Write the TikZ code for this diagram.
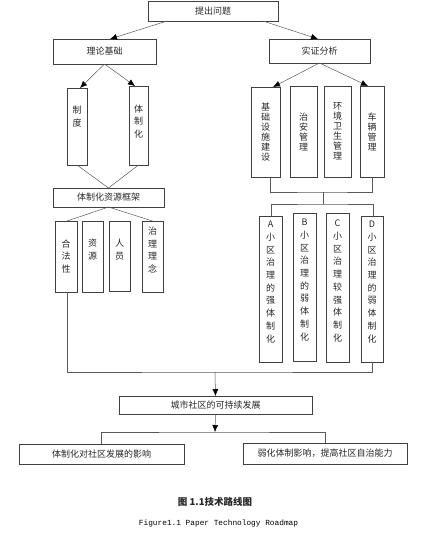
\documentclass[tikz,border=0pt]{standalone}
\usepackage{fontspec}
\newfontfamily\cjk{Noto Sans CJK SC}
\newfontfamily\mono{Liberation Mono}
\usetikzlibrary{arrows.meta,calc}
\newcommand\htxt{\cjk\fontsize{9}{10}\selectfont}
\newcommand\vtxt{\cjk\fontsize{9}{12.7}\selectfont}
\newcommand\vtxtb{\cjk\fontsize{9}{10}\selectfont}
\tikzset{
  box/.style={draw=black!75, line width=0.6pt, inner sep=0pt, outer sep=0pt, font=\htxt, text=black!85},
  vt/.style={align=center, inner sep=0pt, font=\vtxt, text=black!85},
  vtb/.style={align=center, inner sep=0pt, font=\vtxtb, text=black!85},
  conn/.style={draw=black!65, line width=0.5pt},
  arr/.style={conn, -{Latex[length=7pt,width=6pt,black]}},
}
\begin{document}
\begin{tikzpicture}[x=1pt,y=-1pt]
\useasboundingbox (0,0) rectangle (428,533);
% top level
\node[box, minimum width=130pt, minimum height=20pt] (q) at (213,11) {提出问题};
\node[box, minimum width=103pt, minimum height=25pt] (t) at (104.5,51.5) {理论基础};
\node[box, minimum width=101pt, minimum height=24pt] (s) at (319.5,51) {实证分析};
% left vertical boxes
\node[box, minimum width=20pt, minimum height=77pt] (zd) at (77,126.5) {};
\node[vt, yshift=10pt] (zdt) at (zd.center) {制\\度};
\node[box, minimum width=19pt, minimum height=79pt] (tzh) at (138.5,125.5) {};
\node[vt, yshift=4pt] (tzht) at (tzh.center) {体\\制\\化};
% right vertical boxes
\node[box, minimum width=29pt, minimum height=90pt] (jc) at (265.5,132) {};
\node[vtb] (jct) at (jc.center) {基\\础\\设\\施\\建\\设};
\node[box, minimum width=27pt, minimum height=91pt] (za) at (303.5,131.5) {};
\node[vtb] (zat) at (za.center) {治\\安\\管\\理};
\node[box, minimum width=27pt, minimum height=91pt] (hj) at (337.5,131.5) {};
\node[vtb] (hjt) at (hj.center) {环\\境\\卫\\生\\管\\理};
\node[box, minimum width=24pt, minimum height=91pt] (cl) at (372,131.5) {};
\node[vtb] (clt) at (cl.center) {车\\辆\\管\\理};
% framework
\node[box, minimum width=111pt, minimum height=19pt] (kj) at (108.5,197.5) {体制化资源框架};
\node[box, minimum width=22pt, minimum height=71pt] (hf) at (66,256.5) {};
\node[vt] (hft) at (hf.center) {合\\法\\性};
\node[box, minimum width=21pt, minimum height=71pt] (zy) at (92.5,256.5) {};
\node[vt, yshift=7pt] (zyt) at (zy.center) {资\\源};
\node[box, minimum width=21pt, minimum height=70pt] (ry) at (119.5,256) {};
\node[vt, yshift=6.5pt] (ryt) at (ry.center) {人\\员};
\node[box, minimum width=21pt, minimum height=71pt] (zl) at (152.5,256.5) {};
\node[vt, yshift=6.5pt] (zlt) at (zl.center) {治\\理\\理\\念};
% A-D
\node[box, minimum width=23pt, minimum height=146pt] (A) at (270.5,289) {};
\node[vt, yshift=7pt] (At) at (A.center) {A\\小\\区\\治\\理\\的\\强\\体\\制\\化};
\node[box, minimum width=23pt, minimum height=148pt] (B) at (304.5,287) {};
\node[vt, yshift=7pt] (Bt) at (B.center) {B\\小\\区\\治\\理\\的\\弱\\体\\制\\化};
\node[box, minimum width=23pt, minimum height=149pt] (C) at (337.5,287.5) {};
\node[vt, yshift=6.5pt] (Ct) at (C.center) {C\\小\\区\\治\\理\\较\\强\\体\\制\\化};
\node[box, minimum width=22pt, minimum height=146pt] (D) at (372,289) {};
\node[vt, yshift=7pt] (Dt) at (D.center) {D\\小\\区\\治\\理\\的\\弱\\体\\制\\化};
% bottom
\node[box, minimum width=193pt, minimum height=18pt] (cs) at (215.5,405) {城市社区的可持续发展};
\node[box, minimum width=165pt, minimum height=20pt] (yx) at (101.5,454) {体制化对社区发展的影响};
\node[box, minimum width=164pt, minimum height=21pt] (rh) at (325,453.5) {弱化体制影响，提高社区自治能力};
% captions
\node[inner sep=0pt, font=\cjk\bfseries\fontsize{9.5}{11}\selectfont, text=black!85] (cap1) at (215,502) {图 1.1技术路线图};
\node[inner sep=0pt, font=\mono\fontsize{7.8}{9}\selectfont] (cap2) at (218.5,523) {Figure1.1 Paper Technology Roadmap};
% connectors
\draw[arr] ($(q.south)+(-46,0)$) -- ($(t.north)+(5.5,0)$);
\draw[arr] ($(q.south)+(50,0)$) -- ($(s.north)+(-1.5,0)$);
\draw[arr] (t.south) -- ($(zd.north)+(3,0)$);
\draw[arr] (t.south) -- ($(tzh.north)+(-3.5,0)$);
\draw[arr] (s.south) -- ($(jc.north)+(7.5,0)$);
\draw[arr] (s.south) -- ($(cl.north)+(-4,0)$);
\draw[conn] (zd.south) -- (kj.north);
\draw[conn] (tzh.south) -- (kj.north);
\draw[conn] (kj.south) -- ($(hf.north)+(1,0)$);
\draw[conn] (kj.south) -- (zl.north);
\coordinate (r1) at (323,192);
\coordinate (r2) at (323,204);
\draw[conn] ($(jc.south)+(4.5,0)$) |- (r1) -| (cl.south);
\draw[conn] (r1) -- (r2);
\draw[conn] ($(A.north)+(0.5,0)$) |- (r2) -| ($(D.north)+(1,0)$);
\coordinate (m1) at (215,372);
\draw[conn] ($(hf.south)+(1,0)$) |- (m1) -| (D.south);
\draw[arr] (m1) -- (cs.north);
\coordinate (m2) at (215,432);
\draw[arr] (cs.south) -- (m2);
\draw[conn] (yx.north) |- (m2) -| (rh.north);
\end{tikzpicture}
\end{document}
